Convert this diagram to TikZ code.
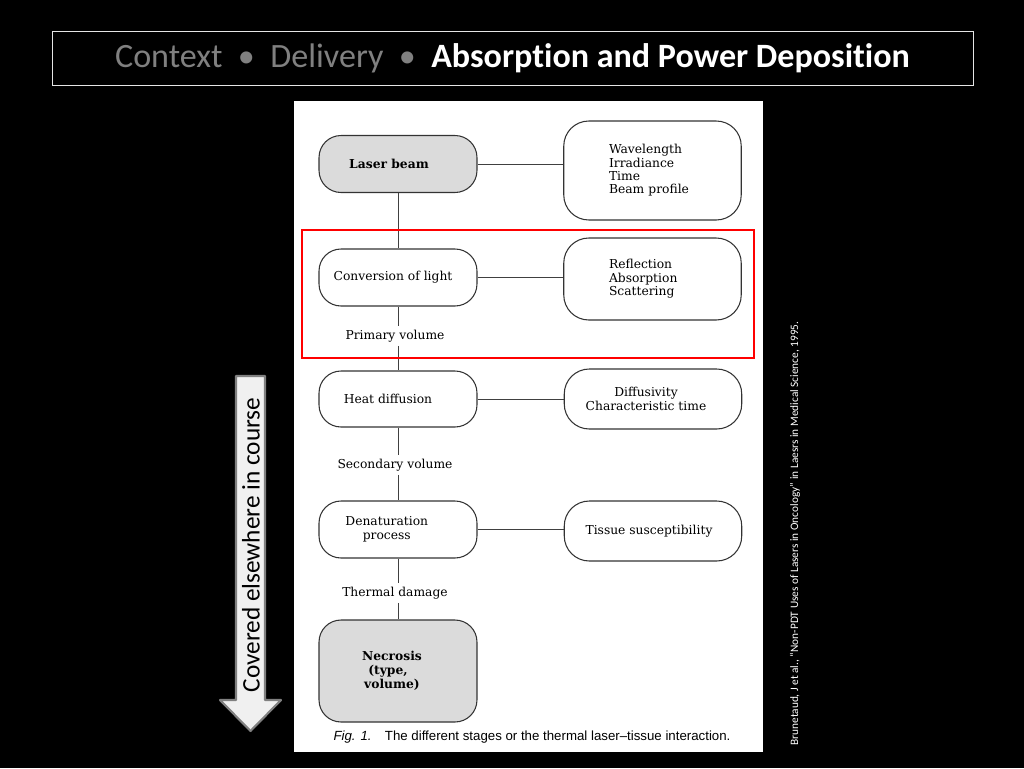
\documentclass[tikz,border=0pt]{standalone}
\usepackage{fontspec}
\setmainfont{DejaVu Serif}
\newfontfamily\slidefont[Ligatures=NoCommon]{Carlito}
\newfontfamily\capfont{Liberation Sans}
\usetikzlibrary{positioning, calc}

\begin{document}
\begin{tikzpicture}[x=0.02cm, y=-0.02cm,
		StageBox/.style={draw=black!80, line width=0.6pt, rounded corners=0.44cm, minimum width=3.16cm, minimum height=1.14cm, align=center, font=\fontsize{7}{8}\selectfont},
		ParamBox/.style={draw=black!80, line width=0.6pt, rounded corners=0.5cm, minimum width=3.55cm, font=\fontsize{7}{7.6}\selectfont},
		StageLabel/.style={inner sep=2pt, font=\fontsize{7}{8}\selectfont},
		Link/.style={draw=black!75, line width=0.5pt}]

	% slide background and figure panel
	\fill[black] (0,0) rectangle (1024,768);
	\fill[white] (294,101) rectangle (763,752);

	\node[draw=white!80!gray, thin, minimum width=18.42cm, minimum height=1.08cm, font=\slidefont\fontsize{19.4}{22}\selectfont] (Title) at (512.5,58)
		{\textcolor{gray}{Context~~•~~Delivery~~•}~~\textcolor{white}{\bfseries Absorption and Power Deposition}};

	% stages
	\node[StageBox, fill=gray!28] (LaserBeam) at (398,164) {\bfseries Laser beam\hspace*{0.36cm}};
	\node[StageBox] (ConvLight) at (398,277.5) {Conversion of light\hspace*{0.2cm}};
	\node[StageLabel] (PrimaryVol) at (395,336) {Primary volume};
	\node[StageBox, minimum height=1.12cm] (HeatDiff) at (398,399) {Heat diffusion\hspace*{0.4cm}};
	\node[StageLabel] (SecondaryVol) at (395,465) {Secondary volume};
	\node[StageBox] (Denat) at (398,529.5) {Denaturation\hspace*{0.45cm}\\process\hspace*{0.45cm}};
	\node[StageLabel] (ThermalDmg) at (395,593) {Thermal damage};
	\node[StageBox, fill=gray!28, minimum height=2.04cm, font=\fontsize{7}{8}\selectfont\bfseries] (Necrosis) at (398,671)
		{\hbox{Necrosis\kern0.24cm}\\\hbox{(type,\kern0.4cm}\\\hbox{volume)\kern0.24cm}};

	% parameters
	\node[ParamBox, minimum height=1.98cm, text width=1.74cm, align=left] (Wavelength) at (652.5,170.5) {Wavelength\\Irradiance\\Time\\Beam profile};
	\node[ParamBox, minimum height=1.64cm, text width=1.74cm, align=left] (Reflection) at (652.5,279) {Reflection\\Absorption\\Scattering};
	\node[ParamBox, minimum height=1.2cm, align=center] (Diffusivity) at (653,399) {Diffusivity\hspace*{0.28cm}\\Characteristic time\hspace*{0.28cm}};
	\node[ParamBox, minimum height=1.2cm] (TissueSusc) at (653,531) {Tissue susceptibility\hspace*{0.16cm}};

	% connectors
	\draw[Link] (LaserBeam) -- (ConvLight);
	\draw[Link] (ConvLight.south) -- (ConvLight.south |- PrimaryVol.north);
	\draw[Link] (HeatDiff.north |- PrimaryVol.south) -- (HeatDiff.north);
	\draw[Link] (HeatDiff.south) -- (HeatDiff.south |- SecondaryVol.north);
	\draw[Link] (Denat.north |- SecondaryVol.south) -- (Denat.north);
	\draw[Link] (Denat.south) -- (Denat.south |- ThermalDmg.north);
	\draw[Link] (Necrosis.north |- ThermalDmg.south) -- (Necrosis.north);
	\draw[Link] (LaserBeam.east) -- (LaserBeam.east -| Wavelength.west);
	\draw[Link] (ConvLight.east) -- (ConvLight.east -| Reflection.west);
	\draw[Link] (HeatDiff.east) -- (HeatDiff.east -| Diffusivity.west);
	\draw[Link] (Denat.east) -- (Denat.east -| TissueSusc.west);

	\node[font=\capfont\fontsize{7.55}{9}\selectfont] (Caption) at (532,737)
		{\textit{Fig. 1.}\quad The different stages or the thermal laser–tissue interaction.};

	% highlight of the absorption stage
	\draw[red, line width=1.2pt] (302,230) rectangle (754,358);

	% arrow for the stages covered elsewhere
	\draw[fill=white!88!gray, draw=gray, line width=1.2pt, line join=round]
		(236,376) -- (265,376) -- (265,700) -- (281,700) -- (250.5,731) -- (220,700) -- (236,700) -- cycle;
	\node[rotate=90, font=\slidefont\fontsize{14.4}{16}\selectfont] (CourseNote) at (251,545) {Covered elsewhere in course};

	\node[rotate=90, text=white, font=\slidefont\fontsize{6.45}{7.5}\selectfont] (Citation) at (795,533.5)
		{Brunetaud, J et al., “Non-PDT Uses of Lasers in Oncology” in Laesrs in Medical Science, 1995.};
\end{tikzpicture}
\end{document}
